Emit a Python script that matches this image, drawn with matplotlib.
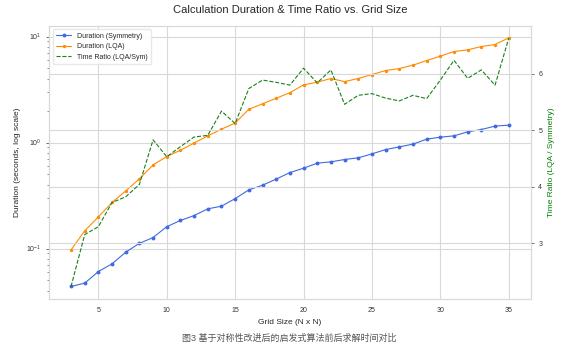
import matplotlib
matplotlib.use("Agg")
import matplotlib.pyplot as plt
import seaborn as sns

# grid sizes
grid_n = list(range(3, 36))

# durations in seconds
dur_sym = [0.0439, 0.0472, 0.0607, 0.0718, 0.0925, 0.112, 0.127, 0.161, 0.184, 0.205,
           0.237, 0.251, 0.296, 0.358, 0.396, 0.452, 0.521, 0.573, 0.639, 0.658,
           0.692, 0.718, 0.782, 0.859, 0.91, 0.966, 1.077, 1.124, 1.157, 1.262,
           1.327, 1.43, 1.46]
dur_lqa = [0.097, 0.147, 0.199, 0.272, 0.35, 0.454, 0.616, 0.738, 0.847, 0.99,
           1.157, 1.337, 1.53, 2.06, 2.32, 2.62, 2.95, 3.5, 3.71, 4.02,
           3.76, 4.02, 4.38, 4.78, 4.99, 5.37, 5.94, 6.53, 7.22, 7.49,
           8.05, 8.41, 9.72]
# LQA / Symmetry
time_ratio = [2.23, 3.15, 3.29, 3.72, 3.82, 4.04, 4.83, 4.53, 4.71, 4.88,
              4.91, 5.34, 5.12, 5.74, 5.89, 5.85, 5.80, 6.10, 5.84, 6.07,
              5.46, 5.62, 5.65, 5.57, 5.52, 5.62, 5.56, 5.89, 6.24, 5.92,
              6.07, 5.80, 6.63]

sns.set_style("whitegrid")
plt.rcParams['font.family'] = ['Liberation Sans', 'Noto Sans CJK SC', 'DejaVu Sans']

fig, ax = plt.subplots(figsize=(5.78, 3.55), dpi=100)
fig.subplots_adjust(left=0.085, right=0.918, top=0.927, bottom=0.158)

grid_col = "#d9d9d9"
for sp in ax.spines.values():
    sp.set_color(grid_col)
    sp.set_linewidth(0.8)

l1, = ax.plot(grid_n, dur_sym, color="royalblue", marker="o", markersize=1.8,
              linewidth=0.8, label="Duration (Symmetry)")
l2, = ax.plot(grid_n, dur_lqa, color="darkorange", marker="o", markersize=1.4,
              markerfacecolor="#ffb060", linewidth=0.8, label="Duration (LQA)")
ax.set_yscale("log")
ax.set_ylim(0.0335, 12.6)
ax.grid(True, color=grid_col, linewidth=0.8)
ax.set_xlabel("Grid Size (N x N)", fontsize=6)
ax.set_ylabel("Duration (seconds, log scale)", fontsize=6)
ax.tick_params(axis="both", labelsize=5, colors="#333333", length=2, width=0.5)
ax.tick_params(axis="y", which="minor", length=1.5, width=0.4, left=True, color="#333333")
ax.tick_params(axis="y", which="major", left=True)
ax.set_title("Calculation Duration & Time Ratio vs. Grid Size", fontsize=8, pad=9)

ax2 = ax.twinx()
l3, = ax2.plot(grid_n, time_ratio, color="#1a801a", linestyle="--", linewidth=0.8,
               label="Time Ratio (LQA/Sym)")
ax2.set_ylim(2.01, 6.85)
ax2.set_yticks([3, 4, 5, 6])
ax2.grid(True, color=grid_col, linewidth=0.8)
for sp in ax2.spines.values():
    sp.set_color(grid_col)
    sp.set_linewidth(0.8)
ax2.set_ylabel("Time Ratio (LQA / Symmetry)", fontsize=6, color="green")
ax2.tick_params(axis="y", labelsize=5, colors="#333333", length=2, width=0.5, right=True)

ax.legend(handles=[l1, l2, l3], loc="upper left", fontsize=5, frameon=True,
          framealpha=0.9, edgecolor="#e6e6e6", handlelength=2.2, borderpad=0.5)

fig.text(0.5, 0.04, "图3 基于对称性改进后的启发式算法前后求解时间对比", ha="center",
         fontsize=6.5, color="#555555")

fig.savefig("out.png", dpi=100)
